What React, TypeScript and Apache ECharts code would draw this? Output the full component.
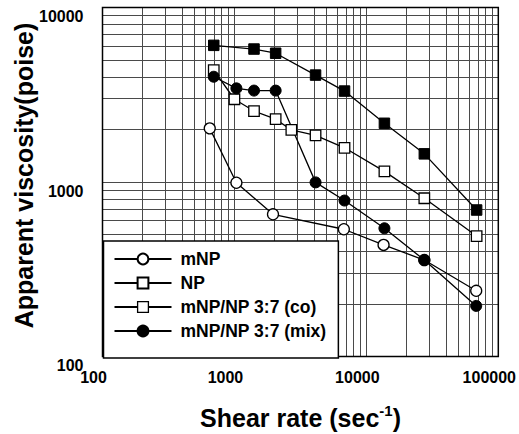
import React, { useEffect, useRef } from "react";
import * as echarts from "echarts";

// ---- data ----
const seriesNames = ["mNP", "NP", "mNP/NP 3:7 (co)", "mNP/NP 3:7 (mix)"];

const mNPShear = [650, 1035, 1960, 6750, 13500, 27500, 68000];
const mNPVisc = [2030, 990, 653, 536, 436, 357, 238];

const npShear = [697, 1000, 1407, 2053, 2700, 4120, 6830, 13700, 27500, 68500];
const npVisc = [4380, 2980, 2550, 2290, 1990, 1850, 1570, 1150, 807, 490];

const coShear = [697, 1407, 2053, 4120, 6830, 13700, 27500, 68500];
const coVisc = [6070, 5780, 5470, 4100, 3320, 2170, 1450, 691];

const mixShear = [697, 1035, 1407, 2053, 4120, 6830, 13700, 27500, 68000];
const mixVisc = [4010, 3440, 3340, 3340, 995, 783, 543, 357, 195];

const xMin = 100;
const xMax = 100000;
const yMin = 100;
const yMax = 10000;

// minor log grid lines (2..9 of each decade)
const xMinorLines = [
  200, 300, 400, 500, 600, 700, 800, 900,
  2000, 3000, 4000, 5000, 6000, 7000, 8000, 9000,
  20000, 30000, 40000, 50000, 60000, 70000, 80000, 90000,
];
const yMinorLines = [
  200, 300, 400, 500, 600, 700, 800, 900,
  2000, 3000, 4000, 5000, 6000, 7000, 8000, 9000,
];

const FONT = "'Liberation Sans', Arial, Helvetica, sans-serif";

function zip(xs: number[], ys: number[]) {
  return xs.map((x, i) => [x, ys[i]]);
}

export default function App() {
  const ref = useRef<HTMLDivElement>(null);

  useEffect(() => {
    if (!ref.current) return;
    const chart = echarts.init(ref.current, undefined, { renderer: "svg" });

    const lineStyle = { color: "#000", width: 1.3 };
    const openItem = { color: "#fff", borderColor: "#000", borderWidth: 1.3 };
    const filledItem = { color: "#000", borderColor: "#000", borderWidth: 1 };

    const gridLineStyle = { color: "#4a4a4a", width: 1, type: "solid" as const };

    chart.setOption({
      animation: false,
      backgroundColor: "#fff",
      grid: {
        left: 102.5,
        top: 7.5,
        right: 20,
        bottom: 77.5,
        show: true,
        borderColor: "#000",
        borderWidth: 1.5,
        backgroundColor: "transparent",
        z: 6,
      },
      xAxis: {
        type: "log",
        logBase: 10,
        min: xMin,
        max: xMax,
        axisLine: { show: false },
        axisTick: { show: false },
        splitLine: { show: true, lineStyle: gridLineStyle },
        axisLabel: {
          formatter: (v: number) => String(Math.round(v)),
          color: "#000",
          fontFamily: FONT,
          fontWeight: "bold",
          fontSize: 16,
          margin: 13,
          padding: [0, 18, 0, 0],
          showMinLabel: true,
          showMaxLabel: true,
        },
      },
      yAxis: {
        type: "log",
        logBase: 10,
        min: yMin,
        max: yMax,
        axisLine: { show: false },
        axisTick: { show: false },
        splitLine: { show: true, lineStyle: gridLineStyle },
        axisLabel: {
          formatter: (v: number) => String(Math.round(v)),
          color: "#000",
          fontFamily: FONT,
          fontWeight: "bold",
          fontSize: 16,
          margin: 19,
          verticalAlign: "top",
          padding: [1, 0, 0, 0],
          showMinLabel: true,
          showMaxLabel: true,
        },
      },
      legend: {
        left: 103.5,
        top: 241,
        orient: "vertical",
        selectedMode: false,
        backgroundColor: "#fff",
        borderColor: "#000",
        borderWidth: 1.5,
        borderRadius: 0,
        padding: [9, 12, 18, 10],
        itemWidth: 57,
        itemHeight: 13.5,
        itemGap: 6,
        z: 10,
        textStyle: {
          color: "#000",
          fontFamily: FONT,
          fontWeight: "bold",
          fontSize: 17.5,
          padding: [0, 0, 0, 4],
        },
        data: [
          { name: seriesNames[0] },
          { name: seriesNames[1] },
          { name: seriesNames[2], itemStyle: { color: "#fff", borderColor: "#000", borderWidth: 1.3 } },
          { name: seriesNames[3] },
        ],
      },
      graphic: [
        {
          type: "text",
          x: 23.5,
          y: 175.5,
          rotation: Math.PI / 2,
          z: 20,
          style: {
            text: "Apparent viscosity(poise)",
            font: `bold 25px ${FONT}`,
            fill: "#000",
            align: "center",
            verticalAlign: "middle",
          },
        },
        {
          type: "text",
          x: 300.5,
          y: 418,
          z: 20,
          style: {
            text: "{a|Shear rate (sec}{s|-1}{a|)}",
            align: "center",
            verticalAlign: "middle",
            rich: {
              a: { font: `bold 25px ${FONT}`, fill: "#000", lineHeight: 30 },
              s: { font: `bold 15px ${FONT}`, fill: "#000", verticalAlign: "top", lineHeight: 30 },
            },
          },
        },
      ],
      series: [
        {
          name: "__grid",
          type: "line",
          data: [],
          silent: true,
          z: 1,
          markLine: {
            silent: true,
            symbol: "none",
            z: 1,
            label: { show: false },
            lineStyle: gridLineStyle,
            emphasis: { disabled: true },
            data: [
              ...xMinorLines.map((v) => ({ xAxis: v })),
              ...yMinorLines.map((v) => ({ yAxis: v })),
            ],
          },
        },
        {
          name: seriesNames[0],
          type: "line",
          z: 3,
          data: zip(mNPShear, mNPVisc),
          symbol: "circle",
          symbolSize: 11,
          lineStyle,
          itemStyle: openItem,
        },
        {
          name: seriesNames[1],
          type: "line",
          z: 3,
          data: zip(npShear, npVisc),
          symbol: "rect",
          symbolSize: 10.5,
          lineStyle,
          itemStyle: openItem,
        },
        {
          name: seriesNames[2],
          type: "line",
          z: 3,
          data: zip(coShear, coVisc),
          symbol: "rect",
          symbolSize: 10.5,
          lineStyle,
          itemStyle: filledItem,
        },
        {
          name: seriesNames[3],
          type: "line",
          z: 3,
          data: zip(mixShear, mixVisc),
          symbol: "circle",
          symbolSize: 11,
          lineStyle,
          itemStyle: filledItem,
        },
      ],
    });

    return () => chart.dispose();
  }, []);

  return (
    <div
      ref={ref}
      style={{ position: "fixed", left: 0, top: 0, width: 519, height: 434, background: "#fff" }}
    />
  );
}
